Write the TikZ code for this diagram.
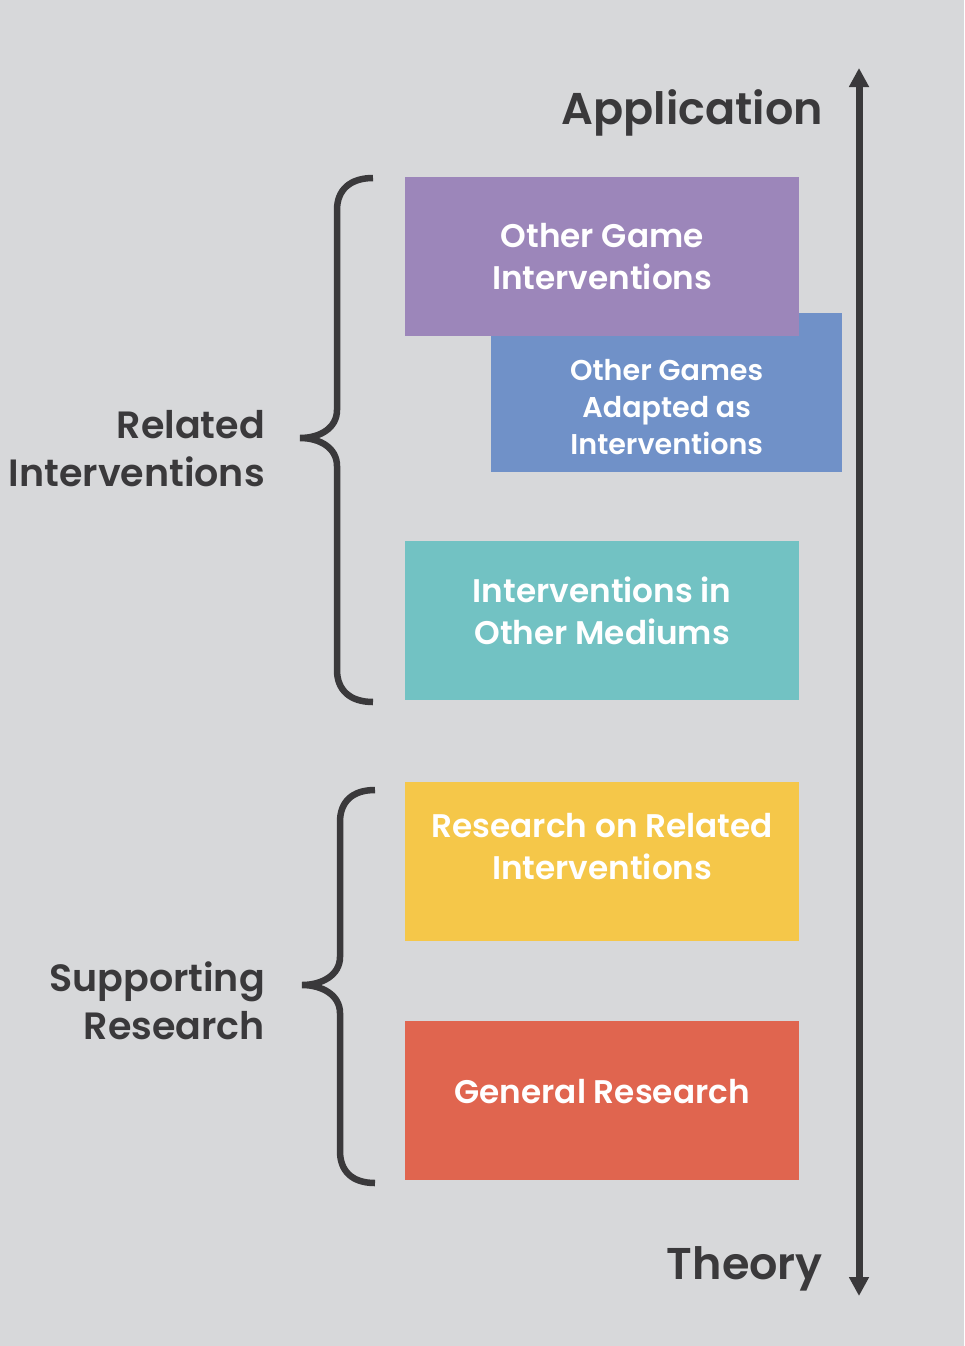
\documentclass[tikz,border=0pt]{standalone}
\usepackage{fontspec}
\setmainfont{Poppins}
\newfontfamily\popsemi{Poppins SemiBold}
\usetikzlibrary{arrows.meta, positioning}
\definecolor{bgray}{HTML}{D7D8DA}
\definecolor{sdark}{HTML}{3A393B}
\definecolor{spurple}{HTML}{9C86BA}
\definecolor{sblue}{HTML}{7091C8}
\definecolor{steal}{HTML}{72C2C3}
\definecolor{syellow}{HTML}{F5C749}
\definecolor{sred}{HTML}{E0654F}
\tikzset{
  panel/.style={
    fill=#1, draw=none, inner sep=0pt, anchor=north west,
    minimum width=394pt, minimum height=159pt
  },
  paneltxt/.style={
    text=white, align=center, inner sep=0pt,
    font=\popsemi\fontsize{32.7}{42}\selectfont
  },
  sidelab/.style={
    text=sdark, align=right, inner sep=0pt, anchor=east,
    font=\popsemi\fontsize{38}{48}\selectfont
  },
  scalelab/.style={
    text=sdark, inner sep=0pt, anchor=base east,
    font=\popsemi\fontsize{44.5}{50}\selectfont
  },
  curly/.style={draw=sdark, line width=6.5pt},
  scalearrow/.style={
    draw=sdark, line width=7pt,
    {Triangle[length=19pt,width=19pt]}-{Triangle[length=19pt,width=19pt]}
  }
}
\begin{document}
\begin{tikzpicture}[x=1pt, y=-1pt]
  \fill[bgray] (0,0) rectangle (964,1346);

  % boxes, blue one sits under the purple one
  \node[panel=sblue, minimum width=351pt] (games) at (491,313) {};
  \node[panel=spurple] (gameint) at (405,177) {};
  \node[panel=steal] (mediums) at (405,541) {};
  \node[panel=syellow] (research) at (405,782) {};
  \node[panel=sred] (general) at (405,1021) {};

  \node[paneltxt] (gameintTxt) at (gameint.center) {Other Game\\Interventions};
  \node[paneltxt, font=\popsemi\fontsize{28.6}{37}\selectfont] (gamesTxt) at ([yshift=-14pt]games.center) {Other Games\\Adapted as\\Interventions};
  \node[paneltxt] (mediumsTxt) at ([yshift=10pt]mediums.center) {Interventions in\\Other Mediums};
  \node[paneltxt] (researchTxt) at ([yshift=15pt]research.center) {Research on Related\\Interventions};
  \node[paneltxt] (generalTxt) at ([yshift=9pt]general.center) {General Research};

  % braces
  \draw[curly] (373,178) .. controls (350,178) and (337,190) .. (337,210) -- (337,410)
    .. controls (337,428) and (320,438) .. (300,438)
    .. controls (320,438) and (337,448) .. (337,466) -- (337,670)
    .. controls (337,690) and (350,702) .. (373,702);
  \draw[curly] (375,790) .. controls (352,790) and (340,802) .. (340,822) -- (340,957)
    .. controls (340,975) and (322,985) .. (302,985)
    .. controls (322,985) and (340,995) .. (340,1013) -- (340,1151)
    .. controls (340,1171) and (352,1183) .. (375,1183);

  \node[sidelab] (related) at (265,449) {Related\\Interventions};
  \node[sidelab] (supporting) at (265,1001) {Supporting\\Research};

  % application / theory scale
  \node[scalelab] (appl) at (823,124) {Application};
  \node[scalelab] (theory) at (823,1279) {Theory};
  \coordinate (scaletop) at (859,68);
  \coordinate (scalebot) at (859,1296);
  \draw[scalearrow] (scalebot) -- (scaletop);
\end{tikzpicture}
\end{document}
